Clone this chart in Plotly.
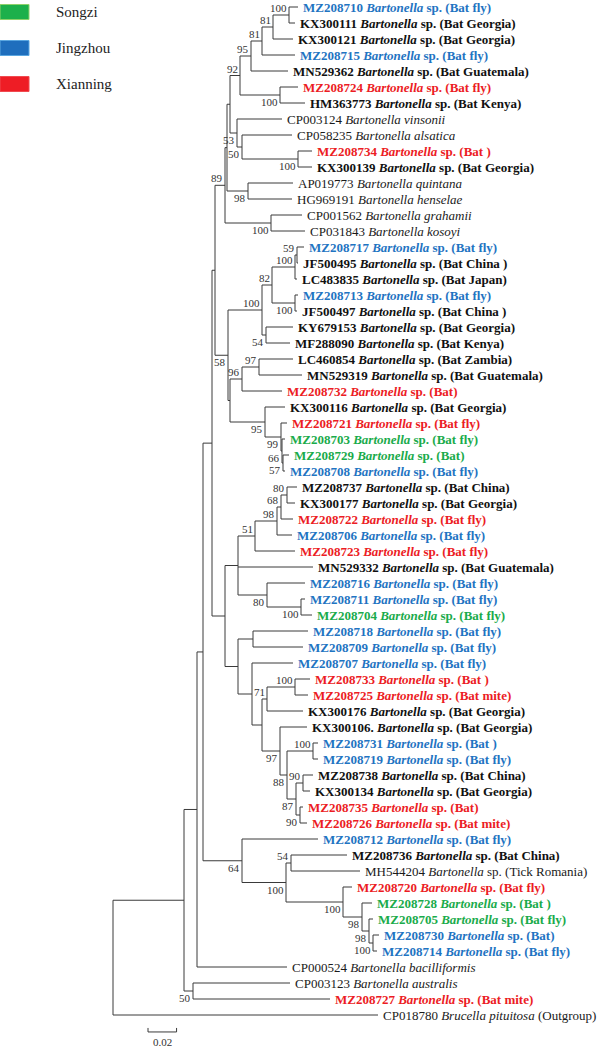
import plotly.graph_objects as go

# ---------------- data ----------------
legend_groups = ["Songzi", "Jingzhou", "Xianning"]
group_colors = {"Songzi": "#1aab4b", "Jingzhou": "#1f74c2", "Xianning": "#ec1c24",
                "Bat": "#111111", "Reference": "#1a1a1a"}

accessions = ["MZ208710", "KX300111", "KX300121", "MZ208715", "MN529362", "MZ208724", "HM363773",
              "CP003124", "CP058235", "MZ208734", "KX300139", "AP019773", "HG969191", "CP001562",
              "CP031843", "MZ208717", "JF500495", "LC483835", "MZ208713", "JF500497", "KY679153",
              "MF288090", "LC460854", "MN529319", "MZ208732", "KX300116", "MZ208721", "MZ208703",
              "MZ208729", "MZ208708", "MZ208737", "KX300177", "MZ208722", "MZ208706", "MZ208723",
              "MN529332", "MZ208716", "MZ208711", "MZ208704", "MZ208718", "MZ208709", "MZ208707",
              "MZ208733", "MZ208725", "KX300176", "KX300106.", "MZ208731", "MZ208719", "MZ208738",
              "KX300134", "MZ208735", "MZ208726", "MZ208712", "MZ208736", "MH544204", "MZ208720",
              "MZ208728", "MZ208705", "MZ208730", "MZ208714", "CP000524", "CP003123", "MZ208727",
              "CP018780"]

taxa = ["Bartonella"] * 7 + ["Bartonella vinsonii", "Bartonella alsatica", "Bartonella", "Bartonella",
        "Bartonella quintana", "Bartonella henselae", "Bartonella grahamii", "Bartonella kosoyi"] \
       + ["Bartonella"] * 45 + ["Bartonella bacilliformis", "Bartonella australis", "Bartonella",
                                "Brucella pituitosa"]

qualifiers = ["sp. (Bat fly)", "sp. (Bat Georgia)", "sp. (Bat Georgia)", "sp. (Bat fly)",
              "sp. (Bat Guatemala)", "sp. (Bat fly)", "sp. (Bat Kenya)", "", "", "sp. (Bat )",
              "sp. (Bat Georgia)", "", "", "", "", "sp. (Bat fly)", "sp. (Bat China )", "sp. (Bat Japan)",
              "sp. (Bat fly)", "sp. (Bat China )", "sp. (Bat Georgia)", "sp. (Bat Kenya)",
              "sp. (Bat Zambia)", "sp. (Bat Guatemala)", "sp. (Bat)", "sp. (Bat Georgia)",
              "sp. (Bat fly)", "sp. (Bat fly)", "sp. (Bat)", "sp. (Bat fly)", "sp. (Bat China)",
              "sp. (Bat Georgia)", "sp. (Bat fly)", "sp. (Bat fly)", "sp. (Bat fly)",
              "sp. (Bat Guatemala)", "sp. (Bat fly)", "sp. (Bat fly)", "sp. (Bat fly)", "sp. (Bat fly)",
              "sp. (Bat fly)", "sp. (Bat fly)", "sp. (Bat )", "sp. (Bat mite)", "sp. (Bat Georgia)",
              "sp. (Bat Georgia)", "sp. (Bat )", "sp. (Bat fly)", "sp. (Bat China)", "sp. (Bat Georgia)",
              "sp. (Bat)", "sp. (Bat mite)", "sp. (Bat fly)", "sp. (Bat China)", "sp. (Tick Romania)",
              "sp. (Bat fly)", "sp. (Bat )", "sp. (Bat fly)", "sp. (Bat)", "sp. (Bat fly)", "", "",
              "sp. (Bat mite)", "(Outgroup)"]

groups = ["Jingzhou", "Bat", "Bat", "Jingzhou", "Bat", "Xianning", "Bat", "Reference", "Reference",
          "Xianning", "Bat", "Reference", "Reference", "Reference", "Reference", "Jingzhou", "Bat", "Bat",
          "Jingzhou", "Bat", "Bat", "Bat", "Bat", "Bat", "Xianning", "Bat", "Xianning", "Songzi", "Songzi",
          "Jingzhou", "Bat", "Bat", "Xianning", "Jingzhou", "Xianning", "Bat", "Jingzhou", "Jingzhou",
          "Songzi", "Jingzhou", "Jingzhou", "Jingzhou", "Xianning", "Xianning", "Bat", "Bat", "Jingzhou",
          "Jingzhou", "Bat", "Bat", "Xianning", "Xianning", "Jingzhou", "Bat", "Reference", "Xianning",
          "Songzi", "Songzi", "Jingzhou", "Jingzhou", "Reference", "Reference", "Xianning", "Reference"]

# Newick clades (branch lengths in substitutions/site, internal labels = bootstrap)
clade_E = ("(((((MZ208710:0.0063,KX300111:0.0042)100:0.0112,KX300121:0.014)81:0.0077,MZ208715:0.0231)81:0.0077,"
           "MN529362:0.0259)95:0.0077,(MZ208724:0.0126,HM363773:0.0175)100:0.028)92:0.007")
clade_I = "(CP003124:0.0315,(CP058235:0.035,(MZ208734:0.0098,KX300139:0.0098)100:0.0392)50:0.0035)53:0.0049"
clade_J = "(AP019773:0.0315,HG969191:0.0308)98:0.0147"
clade_K = "(CP001562:0.0217,CP031843:0.0238)100:0.0322"
clade_M = "(((" + clade_E + "," + clade_I + "):0.0021," + clade_J + "):0.0014," + clade_K + ")89:0.007"

clade_Y = ("((((MZ208717:0.0049,JF500495:0.0007)59:0.0014,LC483835:0.0014)100:0.0161,"
           "(MZ208713:0.0021,JF500497:0.0014)100:0.0161)82:0.007,(KY679153:0.0189,MF288090:0.0168)54:0.0028)100:0.0238")
clade_AG = ("(((LC460854:0.0238,MN529319:0.0301)97:0.0119,MZ208732:0.028)96:0.0084,"
            "(KX300116:0.014,(MZ208721:0.0042,(MZ208703:0.0021,(MZ208729:0.0042,MZ208708:0.0014)57:0.0007)66:0.0007)99:0.0112)95:0.0245):0.0014")
clade_Z = "(" + clade_Y + "," + clade_AG + ")58:0.0091"

clade_AL = ("(((((MZ208737:0.007,KX300177:0.0056)80:0.0042,MZ208722:0.0084)68:0.0028,MZ208706:0.0105)98:0.0154,"
            "MZ208723:0.028)51:0.0119,MN529332:0.0525,(MZ208716:0.0266,(MZ208711:0.0028,MZ208704:0.0077)100:0.0238)80:0.0203):0.0091")
clade_BA = ("((MZ208718:0.0385,MZ208709:0.035):0.0105,(MZ208707:0.0287,(((MZ208733:0.0105,MZ208725:0.0091)100:0.0196,"
            "KX300176:0.0252)71:0.0035,(KX300106.:0.0189,((MZ208731:0.0035,MZ208719:0.0035)100:0.0182,"
            "((MZ208738:0.007,KX300134:0.0049)90:0.0049,(MZ208735:0.0021,MZ208726:0.0049)90:0.0028)87:0.0063)88:0.0049)97:0.0126)"
            ":0.007):0.0098):0.0091")
clade_BH = "(" + clade_AL + "," + clade_BA + "):0.0091"

clade_BI = ("(MZ208712:0.0532,((MZ208736:0.0392,MH544204:0.0483)54:0.0035,(MZ208720:0.0063,(MZ208728:0.007,"
            "(MZ208705:0.0028,(MZ208730:0.0042,MZ208714:0.0028)100:0.0028)98:0.0049)98:0.0133)100:0.0399)100:0.0308)64:0.0273")

tree_newick = ("((((((" + clade_M + "," + clade_Z + "):0.0021," + clade_BH + "):0.0063," + clade_BI +
               "):0.0042,CP000524:0.063):0.0091,(CP003123:0.0679,MZ208727:0.0959)50:0.0063):0.0497,CP018780:0.1855);")

scale_bar_length = 0.02


# ---------------- tree parsing / layout ----------------
def parse_newick(s):
    pos = 0

    def node():
        nonlocal pos
        n = {"children": [], "name": "", "len": 0.0}
        if s[pos] == "(":
            pos += 1
            while True:
                n["children"].append(node())
                if s[pos] == ",":
                    pos += 1
                    continue
                if s[pos] == ")":
                    pos += 1
                    break
        start = pos
        while s[pos] not in ":,);":
            pos += 1
        n["name"] = s[start:pos]
        if s[pos] == ":":
            pos += 1
            start = pos
            while s[pos] not in ",);":
                pos += 1
            n["len"] = float(s[start:pos])
        return n

    return node()


root = parse_newick(tree_newick)
leaf_counter = [0]


def layout(n, x0):
    n["x"] = x0 + n["len"]
    if not n["children"]:
        n["y"] = leaf_counter[0]
        leaf_counter[0] += 1
    else:
        for c in n["children"]:
            layout(c, n["x"])
        n["y"] = (n["children"][0]["y"] + n["children"][-1]["y"]) / 2.0


root["len"] = 0.0
layout(root, 0.0)

seg_x, seg_y = [], []
leaves, internals = [], []


def collect(n, is_first):
    if n["children"]:
        internals.append((n, is_first))
        seg_x.extend([n["x"], n["x"], None])
        seg_y.extend([n["children"][0]["y"], n["children"][-1]["y"], None])
        for i, c in enumerate(n["children"]):
            seg_x.extend([n["x"], c["x"], None])
            seg_y.extend([c["y"], c["y"], None])
            collect(c, i == 0)
    else:
        leaves.append(n)


collect(root, True)

info = {acc: (tx, q, g) for acc, tx, q, g in zip(accessions, taxa, qualifiers, groups)}

FONT = "Liberation Serif, Times New Roman, Times, DejaVu Serif, serif"
fig = go.Figure()
fig.add_trace(go.Scatter(x=seg_x, y=seg_y, mode="lines",
                         line=dict(color="#3a3a3a", width=1), hoverinfo="skip"))

annotations = []
for lf in leaves:
    tx, q, g = info[lf["name"]]
    if g == "Reference":
        label = f"{lf['name']} <i>{tx}</i>" + (f" {q}" if q else "")
    else:
        label = f"<b>{lf['name']} <i>{tx}</i> {q}</b>"
    annotations.append(dict(x=lf["x"], y=lf["y"], xref="x", yref="y", text=label, showarrow=False,
                            xanchor="left", yanchor="middle", xshift=3,
                            font=dict(family=FONT, size=13, color=group_colors[g])))

for n, is_first in internals:
    if n["name"]:
        annotations.append(dict(x=n["x"], y=n["y"], xref="x", yref="y", text=n["name"], showarrow=False,
                                xanchor="right", yanchor="middle", xshift=0,
                                yshift=7 if is_first else -7,
                                font=dict(family=FONT, size=11, color="#333333")))

# scale bar
sb_x0 = 0.0245
sb_y = 64.06
fig.add_trace(go.Scatter(x=[sb_x0, sb_x0, None, sb_x0, sb_x0 + scale_bar_length, None,
                            sb_x0 + scale_bar_length, sb_x0 + scale_bar_length],
                         y=[sb_y - 0.25, sb_y, None, sb_y, sb_y, None, sb_y - 0.25, sb_y],
                         mode="lines", line=dict(color="#3a3a3a", width=1), hoverinfo="skip"))
annotations.append(dict(x=sb_x0 + scale_bar_length / 2, y=sb_y, xref="x", yref="y",
                        text=f"{scale_bar_length:.2f}", showarrow=False, xanchor="center",
                        yanchor="top", yshift=-2, font=dict(family=FONT, size=11, color="#333333")))

# legend (colour key)
W, H = 600, 1054
legend_y = [12, 48, 84]
legend_fill = {"Songzi": "#1db04b", "Jingzhou": "#1f6ebd", "Xianning": "#ee1d25"}
legend_edge = {"Songzi": "#8fd16a", "Jingzhou": "#5aa6e0", "Xianning": "#f04a50"}
shapes = []
for gname, yc in zip(legend_groups, legend_y):
    shapes.append(dict(type="rect", xref="paper", yref="paper", x0=0, x1=29 / W,
                       y0=1 - (yc - 7.5) / H, y1=1 - (yc + 7.5) / H,
                       fillcolor=legend_fill[gname], line=dict(color=legend_edge[gname], width=1)))
    annotations.append(dict(x=54 / W, y=1 - yc / H, xref="paper", yref="paper", text=gname,
                            showarrow=False, xanchor="left", yanchor="middle",
                            font=dict(family=FONT, size=15, color="#222222")))

px_per_unit = 1 / 0.0007
root_px = 113
fig.update_layout(
    width=W, height=H, margin=dict(l=0, r=0, t=0, b=0),
    paper_bgcolor="white", plot_bgcolor="white", showlegend=False,
    xaxis=dict(visible=False, range=[-root_px / px_per_unit, (W - root_px) / px_per_unit], fixedrange=True),
    yaxis=dict(visible=False, range=[(H - 7) / 16, -7 / 16], fixedrange=True),
    annotations=annotations, shapes=shapes,
)

fig.write_html("out.html", config={"displayModeBar": False},
               post_script="document.body.style.margin='0';document.body.style.overflow='hidden';")
